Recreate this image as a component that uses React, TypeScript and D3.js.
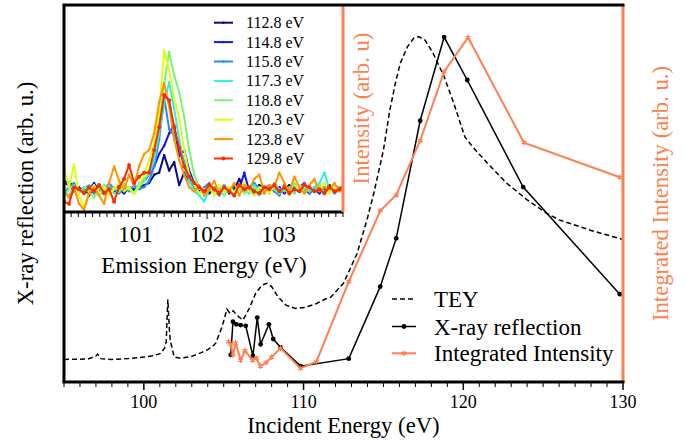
import React from "react";
import * as d3 from "d3";

const W = 686;
const H = 443;
const FONT = '"Liberation Serif"';
const CORAL = "#ff7f50";

// ---------- main panel data (arbitrary units 0..100) ----------
const teyEnergy = [
  95.0, 96.5, 97.0, 97.1, 97.3, 98.0, 99.0, 100.0, 100.6, 101.06, 101.3, 101.4, 101.5, 101.6, 101.65,
  101.9, 102.3, 103.0, 103.6, 104.0, 104.3, 104.5, 104.7, 104.9, 105.2, 105.4, 105.6, 105.8, 106.2,
  106.6, 107.0, 107.4, 107.7, 108.0, 108.4, 108.9, 109.5, 110.1, 110.75, 111.3, 111.7, 112.5, 113.35,
  113.97, 114.4, 115.0, 115.4, 115.75, 116.06, 116.5, 116.9, 117.2, 117.6, 118.1, 118.8, 119.4, 120.1,
  120.6, 121.5, 122.7, 124.0, 125.2, 126.0, 128.0, 130.0,
];
const teyValue = [
  6.0, 6.1, 6.9, 7.4, 6.2, 6.0, 6.2, 6.6, 7.0, 7.6, 9.0, 10.7, 21.9, 13.8, 11.1,
  6.6, 6.3, 6.8, 7.8, 8.6, 9.4, 10.3, 12.5, 14.7, 19.3, 18.2, 18.9, 17.8, 16.4,
  19.5, 23.5, 25.7, 26.2, 25.3, 22.6, 20.4, 19.5, 19.8, 20.7, 21.9, 22.5, 26.2, 34.1,
  43.0, 50.1, 61.5, 72.1, 79.3, 84.6, 88.9, 91.2, 91.6, 90.7, 87.3, 81.0, 74.0, 65.0,
  62.3, 58.1, 52.8, 48.3, 44.8, 43.0, 40.2, 37.8,
];

const xrrEnergy = [
  105.44, 105.58, 105.79, 106.06, 106.38, 106.83, 107.1, 107.31, 107.83, 108.1, 108.56, 109.81,
  112.83, 114.8, 115.8, 117.3, 118.8, 120.25, 123.75, 129.8,
];
const xrrValue = [
  7.2, 16.0, 15.3, 15.1, 14.9, 6.9, 17.1, 10.0, 15.3, 11.4, 9.2, 4.2,
  6.2, 25.3, 38.1, 69.3, 91.5, 80.1, 51.7, 23.3,
];

const intEnergy = [
  105.3, 105.45, 105.58, 105.75, 106.06, 106.33, 106.8, 107.05, 107.3, 107.65, 108.0, 108.56, 109.8,
  110.8, 112.83, 114.8, 115.8, 117.3, 118.8, 120.3, 123.8, 129.8,
];
const intValue = [
  10.7, 10.0, 7.2, 10.3, 5.8, 8.3, 5.8, 6.3, 4.2, 5.1, 6.6, 9.0, 3.6,
  5.4, 26.6, 45.4, 49.6, 64.0, 82.3, 91.4, 63.5, 54.3,
];

const mainTicks = [100, 110, 120, 130];
const mainLegend = ["TEY", "X-ray reflection", "Integrated Intensity"];

// ---------- inset data ----------
const emissionEnergy = [
  100.0, 100.07, 100.14, 100.21, 100.28, 100.35, 100.42, 100.49, 100.56, 100.63,
  100.7, 100.77, 100.84, 100.91, 100.98, 101.05, 101.12, 101.19, 101.26, 101.33,
  101.4, 101.47, 101.54, 101.61, 101.68, 101.75, 101.82, 101.89, 101.96, 102.03,
  102.1, 102.17, 102.24, 102.31, 102.38, 102.45, 102.52, 102.59, 102.66, 102.73,
  102.8, 102.87, 102.94, 103.01, 103.08, 103.15, 103.22, 103.29, 103.36, 103.43,
  103.5, 103.57, 103.64, 103.71, 103.78, 103.85, 103.92,
];

const s1128 = [
  15, 14, 13, 10, 12, 8, 11, 13, 9, 12,
  10, 11, 9, 12, 10, 12, 13, 14, 18, 19,
  27.5, 20, 24, 13, 19, 15, 12, 10, 11, 9,
  12, 10, 13, 9, 11, 16, 10, 12, 9, 13,
  11, 10, 12, 9, 11, 13, 10, 12, 11, 9,
  12, 10, 11, 13, 10, 12, 11,
];
const s1148 = [
  14, 13, 10, 12, 9, 11, 14, 10, 12, 9,
  11, 13, 10, 12, 11, 13, 15, 18, 22, 28,
  32, 38, 42, 27, 30, 20, 14, 12, 10, 13,
  9, 11, 12, 10, 13, 11, 19, 10, 12, 9,
  11, 13, 10, 12, 9, 11, 10, 12, 14, 10,
  11, 9, 12, 10, 13, 11, 10,
];
const s1158 = [
  9, 12, 14, 10, 11, 13, 9, 12, 10, 14,
  11, 9, 12, 10, 13, 11, 12, 15, 22, 35,
  55.5, 40, 37, 33, 24, 16, 12, 9, 12, 14,
  10, 8, 12, 11, 9, 13, 10, 12, 14, 11,
  9, 12, 10, 8, 13, 11, 12, 10, 14, 9,
  11, 13, 10, 12, 9, 11, 12,
];
const s1173 = [
  10, 8, 12, 11, 9, 13, 10, 8, 11, 12,
  9, 10, 13, 11, 9, 14, 16, 18, 25, 38,
  52, 62.8, 50, 35, 22, 15, 10, 8, 5, 11,
  12, 9, 13, 10, 8, 12, 11, 9, 13, 10,
  12, 9, 14, 11, 10, 12, 9, 13, 11, 10,
  12, 14, 19, 11, 13, 10, 12,
];
const s1188 = [
  8, 11, 13, 9, 12, 10, 7, 11, 13, 9,
  12, 10, 14, 11, 9, 12, 15, 20, 28, 42,
  62, 77.3, 66, 58, 46, 30, 18, 12, 10, 13,
  9, 11, 8, 12, 10, 13, 9, 11, 12, 8,
  10, 13, 11, 9, 12, 10, 14, 11, 9, 12,
  10, 13, 9, 11, 10, 12, 8,
];
const s1203 = [
  21, 12, 23, 8, 2, 10, 13, 9, 12, 8,
  11, 14, 10, 12, 9, 13, 18, 25, 33, 48,
  78.3, 68, 55, 46, 30, 18, 13, 9, 11, 12,
  8, 13, 10, 12, 9, 11, 14, 10, 8, 12,
  11, 9, 13, 10, 12, 8, 11, 13, 9, 12,
  10, 11, 14, 9, 12, 10, 11,
];
const s1238 = [
  10, 7, 12, 4, 1, 9, 12, 8, 4, 14,
  22, 15, 11, 18, 13, 22, 28, 30, 38, 53,
  62.3, 51, 35, 25, 18, 12, 10, 13, 8, 11,
  15, 9, 12, 10, 14, 8, 13, 11, 16, 18,
  9, 13, 12, 19, 14, 10, 17, 12, 9, 13,
  16, 10, 12, 11, 14, 10, 12,
];
const s1298 = [
  5, 4, 12, 11, 9, 12, 10, 13, 9, 11,
  5, 12, 16, 22.7, 14, 17, 19, 19, 30, 41,
  56.5, 54, 41, 31, 22, 17, 14, 12, 10, 13,
  11, 9, 12, 10, 8, 13, 11, 12, 10, 9,
  12, 11, 13, 10, 12, 9, 11, 10, 13, 12,
  10, 11, 9, 12, 10, 11, 13,
];

const insetLabels = ["112.8 eV", "114.8 eV", "115.8 eV", "117.3 eV", "118.8 eV", "120.3 eV", "123.8 eV", "129.8 eV"];
const insetColors = ["#0a0a84", "#0a14f5", "#1e8cff", "#2af0e6", "#78f578", "#dcff14", "#ff9600", "#ff2a00"];
const insetSeries = [s1128, s1148, s1158, s1173, s1188, s1203, s1238, s1298];
const insetTicks = [101, 102, 103];

function zip(xs: number[], ys: number[]): [number, number][] {
  const n = Math.min(xs.length, ys.length);
  const out: [number, number][] = [];
  for (let i = 0; i < n; i++) out.push([xs[i], ys[i]]);
  return out;
}

export default function App() {
  // main panel geometry
  const L = 64, R = 623, T = 5, B = 382;
  const x = d3.scaleLinear().domain([95, 130]).range([L, R]);
  const y = d3.scaleLinear().domain([0, 100]).range([B, T]);
  // inset geometry
  const IR = 343, IB = 212;
  const ix = d3.scaleLinear().domain([100, 103.9]).range([L, IR]);
  const iy = d3.scaleLinear().domain([0, 100]).range([IB, T]);

  const mainLine = d3.line<[number, number]>().x((d) => x(d[0])).y((d) => y(d[1]));
  const insetLine = d3.line<[number, number]>().x((d) => ix(d[0])).y((d) => iy(d[1]));

  const tey = zip(teyEnergy, teyValue);
  const xrr = zip(xrrEnergy, xrrValue);
  const integ = zip(intEnergy, intValue);

  const star = d3.symbol().type(d3.symbolAsterisk).size(22)();

  const mainMinor = d3.range(95, 131, 1);
  const insetMinor = d3.range(100, 103.95, 0.1);

  const legendRows = [299, 326.5, 353.3];
  const tstyle = { fontFamily: FONT };

  return (
    <div style={{ position: "absolute", left: 0, top: 0 }}>
      <svg width={W} height={H} style={{ display: "block", background: "#fff" }}>
        <defs>
          <clipPath id="mainClip">
            <rect x={L} y={T} width={R - L} height={B - T} />
          </clipPath>
          <clipPath id="insetClip">
            <rect x={L} y={T} width={IR - L} height={IB - T} />
          </clipPath>
        </defs>

        {/* main data */}
        <g clipPath="url(#mainClip)">
          <path d={mainLine(tey) || ""} fill="none" stroke="#000" strokeWidth={1.5} strokeDasharray="5,3" />
          <path d={mainLine(xrr) || ""} fill="none" stroke="#000" strokeWidth={1.5} />
          {xrr.map((d, i) => (
            <circle key={"xc" + i} cx={x(d[0])} cy={y(d[1])} r={2.4} fill="#000" />
          ))}
          <path d={mainLine(integ) || ""} fill="none" stroke={CORAL} strokeWidth={2} />
          {integ.map((d, i) => (
            <path key={"ic" + i} d={star || ""} transform={`translate(${x(d[0])},${y(d[1])})`} fill="none" stroke={CORAL} strokeWidth={1.2} />
          ))}
        </g>

        {/* main x axis ticks */}
        {mainMinor.map((v) => {
          const major = mainTicks.includes(v);
          return (
            <line key={"mt" + v} x1={x(v)} x2={x(v)} y1={B} y2={B + (major ? 8 : 5)} stroke="#000" strokeWidth={major ? 1.5 : 1} />
          );
        })}
        {mainTicks.map((v) => (
          <text key={"ml" + v} x={x(v)} y={408} fontSize={18} textAnchor="middle" fill="#000" style={tstyle}>
            {v}
          </text>
        ))}
        <text x={(L + R) / 2} y={433} fontSize={22.7} textAnchor="middle" fill="#000" style={tstyle}>
          Incident Energy (eV)
        </text>
        <text transform={`translate(33,${(T + B) / 2}) rotate(-90)`} fontSize={22.7} textAnchor="middle" fill="#000" style={tstyle}>
          X-ray reflection (arb. u.)
        </text>
        <text transform={`translate(668,${(T + B) / 2}) rotate(-90)`} fontSize={22.7} textAnchor="middle" fill={CORAL} style={tstyle}>
          Integrated Intensity (arb. u.)
        </text>

        {/* main legend */}
        {mainLegend.map((lab, i) => {
          const yy = legendRows[i];
          return (
            <g key={"lg" + i}>
              {i === 0 && <line x1={392} x2={416} y1={yy} y2={yy} stroke="#000" strokeWidth={1.5} strokeDasharray="5,3" />}
              {i === 1 && (
                <g>
                  <line x1={392} x2={416} y1={yy} y2={yy} stroke="#000" strokeWidth={1.5} />
                  <circle cx={404} cy={yy} r={2.4} fill="#000" />
                </g>
              )}
              {i === 2 && (
                <g>
                  <line x1={392} x2={416} y1={yy} y2={yy} stroke={CORAL} strokeWidth={2} />
                  <path d={star || ""} transform={`translate(404,${yy})`} fill="none" stroke={CORAL} strokeWidth={1.2} />
                </g>
              )}
              <text x={434} y={yy + 8} fontSize={23} fill="#000" style={tstyle}>
                {lab}
              </text>
            </g>
          );
        })}

        {/* inset */}
        <rect x={L} y={T} width={IR - L} height={IB - T} fill="#fff" />
        <g clipPath="url(#insetClip)">
          {insetSeries.map((s, k) => {
            const pts = zip(emissionEnergy, s);
            return (
              <g key={"is" + k}>
                <path d={insetLine(pts) || ""} fill="none" stroke={insetColors[k]} strokeWidth={2} strokeLinejoin="round" />
                {pts.map((d, i) => (
                  <circle key={i} cx={ix(d[0])} cy={iy(d[1])} r={k === 7 ? 2 : 1.2} fill={insetColors[k]} />
                ))}
              </g>
            );
          })}
        </g>
        {/* inset legend */}
        {insetLabels.map((lab, k) => {
          const yy = 22.7 + k * 19.4;
          return (
            <g key={"il" + k}>
              <line x1={214} x2={233} y1={yy} y2={yy} stroke={insetColors[k]} strokeWidth={2} />
              <circle cx={223.5} cy={yy} r={k === 7 ? 2 : 1.2} fill={insetColors[k]} />
              <text x={246} y={yy + 5.5} fontSize={16} fill="#000" style={tstyle}>
                {lab}
              </text>
            </g>
          );
        })}
        {/* inset ticks */}
        {insetMinor.map((v, i) => {
          const major = Math.abs(v - Math.round(v)) < 1e-6 && v > 100.5;
          return (
            <line key={"it" + i} x1={ix(v)} x2={ix(v)} y1={IB} y2={IB + (major ? 7 : 5)} stroke="#000" strokeWidth={1} />
          );
        })}
        {insetTicks.map((v) => (
          <text key={"itl" + v} x={ix(v)} y={242} fontSize={23} textAnchor="middle" fill="#000" style={tstyle}>
            {v}
          </text>
        ))}
        <text x={204} y={273} fontSize={23} textAnchor="middle" fill="#000" style={tstyle}>
          Emission Energy (eV)
        </text>
        <text transform={`translate(369,${(T + IB) / 2}) rotate(-90)`} fontSize={22.7} textAnchor="middle" fill={CORAL} style={tstyle}>
          Intensity (arb. u)
        </text>
        <line x1={L} x2={IR} y1={IB} y2={IB} stroke="#000" strokeWidth={3} />
        <line x1={IR} x2={IR} y1={T} y2={IB} stroke={CORAL} strokeWidth={3} />

        {/* main frame */}
        <line x1={R} x2={R} y1={T} y2={B} stroke={CORAL} strokeWidth={3} />
        <line x1={L - 1.5} x2={R + 1.5} y1={T} y2={T} stroke="#000" strokeWidth={3} />
        <line x1={L} x2={L} y1={T} y2={B} stroke="#000" strokeWidth={3} />
        <line x1={L - 1.5} x2={R + 1.5} y1={B} y2={B} stroke="#000" strokeWidth={3} />
      </svg>
    </div>
  );
}
